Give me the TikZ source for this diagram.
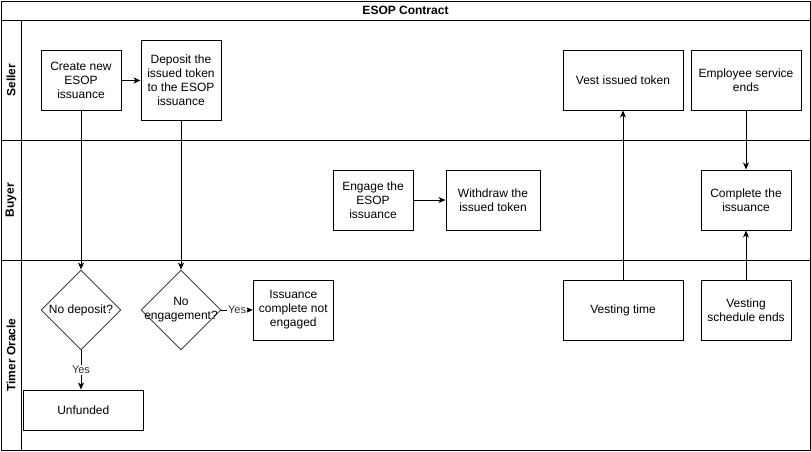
\documentclass[tikz,border=0pt]{standalone}
\usepackage{fontspec}
\setmainfont{Liberation Sans}
\usetikzlibrary{arrows.meta,shapes.geometric}
\begin{document}
\begin{tikzpicture}[x=1pt,y=-1pt,
  font=\fontsize{12}{14}\selectfont,
  lane/.style={line width=1pt, draw=black},
  box/.style={draw=black, line width=1pt, rectangle, align=center, inner sep=0pt},
  dia/.style={draw=black!75, line width=0.9pt, diamond, aspect=1, minimum width=80pt, minimum height=80pt, inner sep=0pt},
  conn/.style={line width=1pt, draw=black, -{Stealth[length=7pt,width=6pt,inset=2pt]}},
  yes/.style={fill=white, inner sep=1pt, font=\fontsize{11}{13}\selectfont, text=black!80},
  lanelabel/.style={rotate=90, font=\fontsize{12}{14}\selectfont\bfseries}]
\useasboundingbox (0,0) rectangle (811,451);
% pool and lanes
\draw[lane] (1,1) rectangle (810,450);
\draw[lane] (1,20) -- (810,20);
\draw[lane] (1,140) -- (810,140);
\draw[lane] (1,260) -- (810,260);
\draw[lane] (21,20) -- (21,450);
\node[font=\fontsize{12}{14}\selectfont\bfseries] (title) at (405.5,10.5) {ESOP Contract};
\node[lanelabel] (lseller) at (11,80) {Seller};
\node[lanelabel] (lbuyer) at (11,200) {Buyer};
\node[lanelabel] (ltimer) at (11,355) {Timer Oracle};
% nodes
\node[box, minimum width=80pt, minimum height=60pt] (create) at (81,80.5) {Create new\\ESOP\\issuance};
\node[box, minimum width=80pt, minimum height=80pt] (deposit) at (181,80.5) {Deposit the\\issued token\\to the ESOP\\issuance};
\node[dia, label={[align=center]center:No deposit?}] (nodep) at (81,310) {};
\node[dia, label={[align=center]center:No\\engagement?}] (noeng) at (181,310) {};
\node[box, minimum width=80pt, minimum height=60pt] (iscomp) at (293.3,310) {Issuance\\complete not\\engaged};
\node[box, minimum width=120pt, minimum height=40pt] (unfunded) at (83.3,410) {Unfunded};
\node[box, minimum width=80pt, minimum height=60pt] (engage) at (373,200) {Engage the\\ESOP\\issuance};
\node[box, minimum width=94pt, minimum height=60pt] (withdraw) at (493,200) {Withdraw the\\issued token};
\node[box, minimum width=120pt, minimum height=60pt] (vest) at (623,80) {Vest issued token};
\node[box, minimum width=110pt, minimum height=60pt] (employee) at (746,80) {Employee service\\ends};
\node[box, minimum width=90pt, minimum height=60pt] (complete) at (746,200) {Complete the\\issuance};
\node[box, minimum width=120pt, minimum height=60pt] (vtime) at (623,310) {Vesting time};
\node[box, minimum width=90pt, minimum height=60pt] (vsched) at (746,310) {Vesting\\schedule ends};
% connectors
\draw[conn] (create.east) -- (deposit.west |- create.east);
\draw[conn] (create.south) -- (nodep.north);
\draw[conn] (deposit.south) -- (noeng.north);
\draw[conn] (nodep.south) -- node[yes, pos=0.5] (yes1) {Yes} (nodep.south |- unfunded.north);
\draw[conn] (noeng.east) -- node[yes, pos=0.5] (yes2) {Yes} (iscomp.west);
\draw[conn] (engage.east) -- (withdraw.west);
\draw[conn] (vtime.north) -- (vest.south);
\draw[conn] (employee.south) -- (complete.north);
\draw[conn] (vsched.north) -- (complete.south);
\end{tikzpicture}
\end{document}
